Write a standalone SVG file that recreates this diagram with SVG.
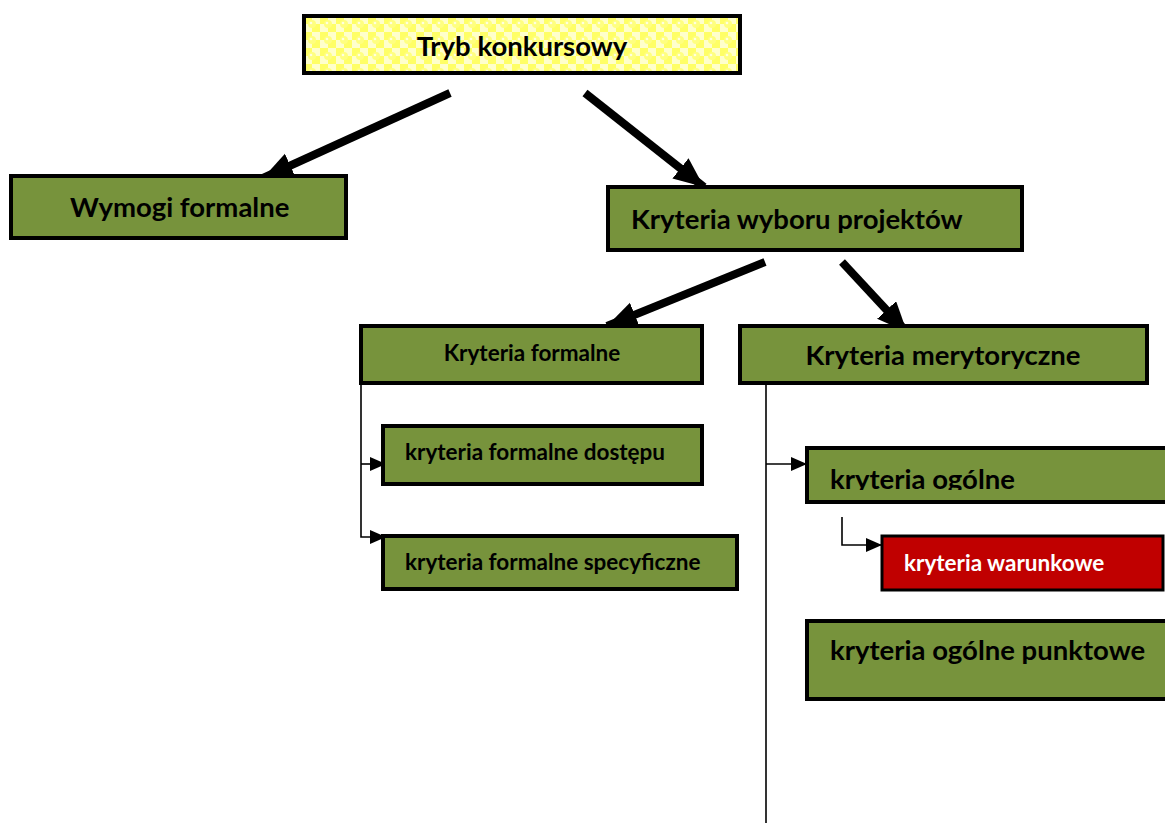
<svg xmlns="http://www.w3.org/2000/svg" width="1165" height="823" viewBox="0 0 1165 823">
<style>
.box{fill:#77933C;stroke:#000;stroke-width:4}
.red{fill:#C00000;stroke:#000;stroke-width:3}
.t{font-family:Lato,"Liberation Sans",sans-serif;font-weight:bold;fill:#000}
.big{font-size:27.5px}
.sm{font-size:22.5px}
.w{fill:#fff}
.thick{stroke:#000;stroke-width:8;fill:none}
.thin{stroke:#000;stroke-width:1.6;fill:none}
</style>
<defs>
<pattern id="chk" width="16" height="16" patternUnits="userSpaceOnUse">
<rect width="16" height="16" fill="#FFFFCC"/>
<rect width="8" height="8" fill="#FFFF66"/>
<rect x="8" y="8" width="8" height="8" fill="#FFFF66"/>
<circle cx="8" cy="8" r="4" fill="#FFFF80"/>
<circle cx="7" cy="7" r="1.3" fill="#FFFFE0"/>
</pattern>
<marker id="ah" markerUnits="userSpaceOnUse" markerWidth="34" markerHeight="30" refX="30" refY="13" orient="auto">
<path d="M0,0 L30,13 L0,26 Z" fill="#000"/>
</marker>
<marker id="as" markerUnits="userSpaceOnUse" markerWidth="18" markerHeight="16" refX="16" refY="7" orient="auto">
<path d="M0,0 L16,7 L0,14 Z" fill="#000"/>
</marker>
<clipPath id="clipOg"><rect x="806" y="447" width="360" height="43"/></clipPath>
</defs>

<g id="connectors">
<line class="thick" x1="450" y1="93" x2="263" y2="178" marker-end="url(#ah)"/>
<line class="thick" x1="585" y1="93" x2="704" y2="187" marker-end="url(#ah)"/>
<line class="thick" x1="765" y1="262" x2="607" y2="326" marker-end="url(#ah)"/>
<line class="thick" x1="842" y1="262" x2="907" y2="332" marker-end="url(#ah)"/>
<polyline class="thin" points="361,384 361,537 386,537" marker-end="url(#as)"/>
<polyline class="thin" points="361,464 386,464" marker-end="url(#as)"/>
<polyline class="thin" points="766,384 766,823"/>
<polyline class="thin" points="766,464 807,464" marker-end="url(#as)"/>
<polyline class="thin" points="842,517 842,545 882,545" marker-end="url(#as)"/>
</g>

<g id="tryb">
<rect x="304" y="16" width="436" height="57" fill="url(#chk)" stroke="#000" stroke-width="4"/>
<text class="t big" x="522" y="56" text-anchor="middle">Tryb konkursowy</text>
</g>
<g id="wymogi">
<rect class="box" x="11" y="176" width="335" height="62"/>
<text class="t big" x="70" y="217">Wymogi formalne</text>
</g>
<g id="wyboru">
<rect class="box" x="608" y="187" width="414" height="63"/>
<text class="t big" x="631" y="229">Kryteria wyboru projektów</text>
</g>
<g id="formalne">
<rect class="box" x="361" y="326" width="341" height="57"/>
<text class="t sm" x="532" y="361" text-anchor="middle">Kryteria formalne</text>
</g>
<g id="merytoryczne">
<rect class="box" x="740" y="326" width="407" height="57"/>
<text class="t big" x="943" y="365" text-anchor="middle">Kryteria merytoryczne</text>
</g>
<g id="dostepu">
<rect class="box" x="383" y="426" width="319" height="58"/>
<text class="t sm" x="405" y="460">kryteria formalne dostępu</text>
</g>
<g id="specyficzne">
<rect class="box" x="383" y="536" width="354" height="53"/>
<text class="t sm" x="405" y="570">kryteria formalne specyficzne</text>
</g>
<g id="ogolne">
<rect class="box" x="807" y="448" width="362" height="54"/>
<text class="t big" x="830" y="489" clip-path="url(#clipOg)">kryteria ogólne</text>
</g>
<g id="warunkowe">
<rect class="red" x="882" y="536" width="281" height="54"/>
<text class="t sm w" x="904" y="571">kryteria warunkowe</text>
</g>
<g id="punktowe">
<rect class="box" x="807" y="621" width="362" height="78"/>
<text class="t big" x="830" y="660">kryteria ogólne punktowe</text>
</g>
</svg>
